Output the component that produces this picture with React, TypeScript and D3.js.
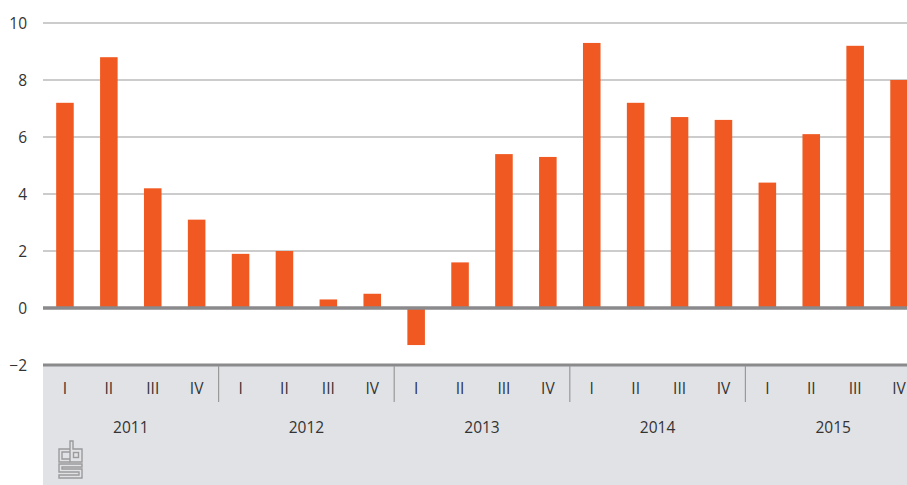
import React from 'react';
import * as d3 from 'd3';

const years = ['2011', '2012', '2013', '2014', '2015'];
const quarters = ['I', 'II', 'III', 'IV'];
// percentage change per quarter
const values = [
    7.2, 8.8, 4.2, 3.1,
    1.9, 2.0, 0.3, 0.5,
    -1.3, 1.6, 5.4, 5.3,
    9.3, 7.2, 6.7, 6.6,
    4.4, 6.1, 9.2, 8.0,
];
const yTicks = [-2, 0, 2, 4, 6, 8, 10];

const W = 907, H = 485;
const left = 43, right = 921;
const font = '"Open Sans", "Noto Sans", sans-serif';

function CbsLogo({ x, y }: { x: number; y: number }) {
    // small outline logo in the corner of the grey panel
    const s = '#9b9b9d';
    return (
        <g transform={`translate(${x},${y})`} fill="none" stroke={s} strokeWidth={1.4}>
            <path d="M12,9 H1 V22 H12" />
            <path d="M12,12 H4 V19 H12" />
            <path d="M12,1 V22 H24 V9 H15 V1 Z" />
            <rect x={15.5} y={12.5} width={5} height={5} />
            <path d="M24,24 H1 V32 H21 V35 H1 V38 H24 V29 H4 V27 H24 Z" />
        </g>
    );
}

export default function App() {
    const labels = years.flatMap(yr => quarters.map(q => `${q} ${yr}`));

    const x = d3.scaleBand<string>()
        .domain(labels)
        .range([left, right])
        .paddingInner(0.6)
        .paddingOuter(0.3);

    const xYear = d3.scaleBand<string>()
        .domain(years)
        .range([left, right]);

    const xQuarter = d3.scaleBand<string>()
        .domain(labels)
        .range([left, right]);

    const y = d3.scaleLinear().domain([-2, 10]).range([365, 23]);

    return (
        <svg width={W} height={H} style={{ position: 'absolute', left: 0, top: 0 }}
            fontFamily={font}>
            <rect x={0} y={0} width={W} height={H} fill="#fff" />

            {/* grey category panel */}
            <rect x={left} y={y(-2)} width={W - left} height={H - y(-2)} fill="#e1e2e5" />

            {/* grid lines */}
            {yTicks.filter(t => t > 0).map(t => (
                <line key={t} x1={left} x2={W} y1={y(t)} y2={y(t)}
                    stroke="#9a9a9a" strokeWidth={1.2} />
            ))}

            {/* y tick labels */}
            {yTicks.map(t => (
                <text key={t} x={27} y={y(t)} dy="0.36em" textAnchor="end"
                    fontSize={15.5} fill="#333">
                    {t < 0 ? '\u2212' + Math.abs(t) : t}
                </text>
            ))}

            {/* bars */}
            {values.map((v, i) => (
                <rect key={labels[i]}
                    x={x(labels[i])}
                    width={x.bandwidth()}
                    y={y(Math.max(0, v))}
                    height={Math.abs(y(v) - y(0))}
                    fill="#f05a22" />
            ))}

            {/* zero line and bottom axis line */}
            <line x1={left} x2={W} y1={y(0)} y2={y(0)} stroke="#8a8a8c" strokeWidth={3.5} />
            <line x1={left} x2={W} y1={y(-2)} y2={y(-2)} stroke="#8a8a8c" strokeWidth={3} />

            {/* year separators */}
            {years.slice(1).map(yr => (
                <line key={yr} x1={xYear(yr)} x2={xYear(yr)} y1={y(-2) + 1} y2={402}
                    stroke="#9a9a9a" strokeWidth={1.2} />
            ))}

            {/* quarter labels */}
            {labels.map((l, i) => (
                <text key={l} x={xQuarter(l)! + xQuarter.bandwidth() / 2} y={394}
                    textAnchor="middle" fontSize={15.5} fill="#333">
                    {quarters[i % 4]}
                </text>
            ))}

            {/* year labels */}
            {years.map(yr => (
                <text key={yr} x={xYear(yr)! + xYear.bandwidth() / 2} y={433}
                    textAnchor="middle" fontSize={15.5} fill="#333">
                    {yr}
                </text>
            ))}

            <CbsLogo x={58} y={440} />
        </svg>
    );
}
